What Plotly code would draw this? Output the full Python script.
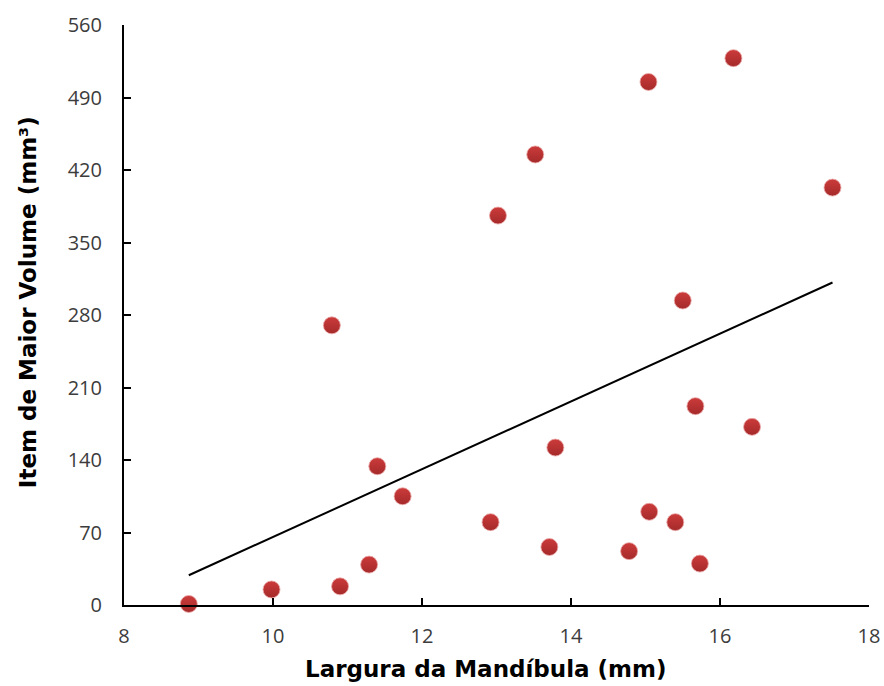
import numpy as np
import plotly.graph_objects as go

# Largura da mandíbula (mm) e item de maior volume (mm³)
largura = [8.87, 9.98, 10.79, 10.90, 11.29, 11.40, 11.74, 12.92, 13.02, 13.52,
           13.71, 13.79, 14.78, 15.04, 15.05, 15.40, 15.50, 15.67, 15.73, 16.18,
           16.43, 17.51]
volume = [1, 15, 270, 18, 39, 134, 105, 80, 376, 435,
          56, 152, 52, 505, 90, 80, 294, 192, 40, 528,
          172, 403]

x_ticks = [8, 10, 12, 14, 16, 18]
y_ticks = [0, 70, 140, 210, 280, 350, 420, 490, 560]

x_title = "Largura da Mandíbula (mm)"
y_title = "Item de Maior Volume (mm³)"

# linear trend fitted to the data
xa = np.array(largura)
ya = np.array(volume)
slope, intercept = np.polyfit(xa, ya, 1)
trend_x = [xa.min(), xa.max()]
trend_y = [slope * v + intercept for v in trend_x]

fig = go.Figure()
fig.add_trace(go.Scatter(
    x=trend_x, y=trend_y, mode="lines",
    line=dict(color="black", width=2), hoverinfo="skip", showlegend=False,
))
fig.add_trace(go.Scatter(
    x=largura, y=volume, mode="markers",
    marker=dict(size=17, color="#cc3b3b",
                gradient=dict(type="vertical", color="#a52a2a"),
                line=dict(width=1, color="rgba(235,170,170,0.8)")),
    cliponaxis=False, showlegend=False,
))

tick_font = dict(family="Open Sans, sans-serif", size=20, color="#3c3c3c")
title_font = dict(family="DejaVu Sans, Verdana, sans-serif", size=23, color="black")

fig.update_layout(
    width=884, height=686,
    margin=dict(l=124, r=15, t=25, b=81),
    plot_bgcolor="white", paper_bgcolor="white",
    xaxis=dict(
        range=[8, 18], tickvals=x_ticks, ticktext=[str(v) for v in x_ticks],
        showgrid=False, zeroline=False, showline=True, linecolor="black", linewidth=2,
        ticks="inside", ticklen=7, tickwidth=2, tickcolor="black",
        tickfont=tick_font, ticklabelstandoff=12, automargin=False,
    ),
    yaxis=dict(
        range=[0, 560], tickvals=y_ticks, ticktext=[str(v) for v in y_ticks],
        showgrid=False, zeroline=False, showline=True, linecolor="black", linewidth=2,
        ticks="inside", ticklen=7, tickwidth=2, tickcolor="black",
        tickfont=tick_font, ticklabelstandoff=16, automargin=False,
    ),
    annotations=[
        dict(text=f"<b>{x_title}</b>", xref="paper", yref="paper",
             x=0.486, y=-0.110, xanchor="center", yanchor="middle",
             showarrow=False, font=title_font),
        dict(text=f"<b>{y_title}</b>", xref="paper", yref="paper",
             x=-0.129, y=0.522, xanchor="center", yanchor="middle",
             textangle=-90, showarrow=False, font=title_font),
    ],
)

fig.write_html("out.html")
